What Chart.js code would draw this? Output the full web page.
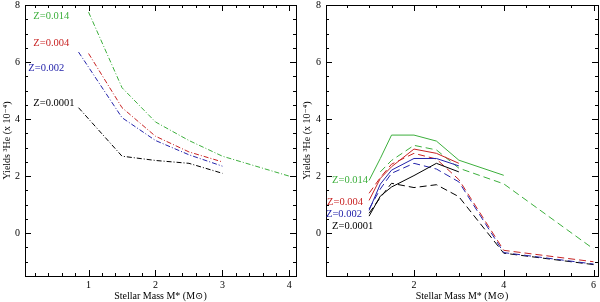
<!DOCTYPE html>
<html><head><meta charset="utf-8">
<script src="https://cdn.jsdelivr.net/npm/chart.js@4/dist/chart.umd.min.js"></script>
<style>
body{margin:0;background:#fff;overflow:hidden}
.w{position:absolute;top:0;width:300px;height:302px}
</style>
</head><body>
<div class="w" style="left:0"><canvas id="c1" width="300" height="302"></canvas></div>
<div class="w" style="left:300px"><canvas id="c2" width="300" height="302"></canvas></div>
<script>
// ---------- DATA ----------
// Left panel (dash-dot curves)
const L_z014_x = [1, 1.5, 2, 2.5, 3, 4];
const L_z014_y = [7.75, 5.1, 3.9, 3.25, 2.7, 2.0];
const L_z004_x = [1, 1.5, 2, 2.5, 3];
const L_z004_y = [6.3, 4.4, 3.4, 2.85, 2.5];
const L_z002_x = [0.85, 1.5, 2, 2.5, 3];
const L_z002_y = [6.35, 4.05, 3.25, 2.75, 2.35];
const L_z0001_x = [0.85, 1.5, 2, 2.5, 3];
const L_z0001_y = [4.4, 2.7, 2.55, 2.45, 2.1];

// Right panel solid curves
const R_z014_sx = [1, 1.25, 1.5, 2, 2.5, 3, 4];
const R_z014_sy = [1.85, 2.62, 3.44, 3.44, 3.23, 2.56, 2.03];
const R_z004_sx = [1, 1.25, 1.5, 2, 2.5, 3];
const R_z004_sy = [1.15, 1.92, 2.33, 2.95, 2.8, 2.45];
const R_z002_sx = [1, 1.25, 1.5, 2, 2.5, 3];
const R_z002_sy = [0.8, 1.72, 2.21, 2.62, 2.62, 2.36];
const R_z0001_sx = [1, 1.25, 1.5, 2, 2.5, 3];
const R_z0001_sy = [0.6, 1.3, 1.62, 2.02, 2.45, 2.15];

// Right panel dashed curves
const R_z014_dx = [1.25, 1.5, 2, 2.5, 3, 4, 6];
const R_z014_dy = [2.15, 2.55, 3.08, 2.92, 2.28, 1.73, -0.55];
const R_z004_dx = [1, 1.25, 1.5, 2, 2.5, 3, 4, 6];
const R_z004_dy = [1.4, 1.95, 2.42, 2.8, 2.6, 1.88, -0.6, -1.0];
const R_z002_dx = [1, 1.25, 1.5, 2, 2.5, 3, 4, 6];
const R_z002_dy = [0.85, 1.55, 2.1, 2.45, 2.25, 1.8, -0.68, -1.08];
const R_z0001_dx = [1, 1.25, 1.5, 2, 2.5, 3, 4, 6];
const R_z0001_dy = [0.7, 1.25, 1.75, 1.6, 1.7, 1.28, -0.7, -1.1];

// Tick labels
const L_xTicks = [1, 2, 3, 4];
const R_xTicks = [2, 4, 6];
const yTicks = [0, 2, 4, 6, 8];
const L_xMinor = [0.2,0.4,0.6,0.8,1.2,1.4,1.6,1.8,2.2,2.4,2.6,2.8,3.2,3.4,3.6,3.8,4];
const R_xMinor = [0.5,1,1.5,2.5,3,3.5,4.5,5,5.5];
const yMinor = [-1.5,-1,-0.5,0.5,1,1.5,2.5,3,3.5,4.5,5,5.5,6.5,7,7.5];

const seriesNames = ['Z=0.014', 'Z=0.004', 'Z=0.002', 'Z=0.0001'];

// ---------- STYLE ----------
const C_GREEN = 'rgb(60,175,60)', C_RED = 'rgb(200,35,35)', C_BLUE = 'rgb(35,35,170)', C_BLACK = '#000';
const colors = [C_GREEN, C_RED, C_BLUE, C_BLACK];
const SERIF = '"Liberation Serif", "DejaVu Serif", serif';

function pts(xs, ys) { return xs.map((x, i) => ({x: x, y: ys[i]})); }
function ds(xs, ys, color, dash) {
  return {data: pts(xs, ys), borderColor: color, borderWidth: 1, borderDash: dash,
          pointRadius: 0, fill: false, tension: 0};
}

const framePlugin = {
  id: 'frame',
  afterDraw(chart, args, o) {
    const ctx = chart.ctx, a = chart.chartArea;
    const xs = chart.scales.x, ys = chart.scales.y;
    ctx.save();
    ctx.strokeStyle = '#000';
    ctx.lineWidth = 1;
    ctx.strokeRect(Math.round(a.left) + 0.5, Math.round(a.top) + 0.5,
                   Math.round(a.right - a.left), Math.round(a.bottom - a.top));
    ctx.beginPath();
    const tick = (vals, len, horiz) => {
      vals.forEach(v => {
        if (horiz) {
          const p = Math.round(xs.getPixelForValue(v)) + 0.5;
          ctx.moveTo(p, a.bottom); ctx.lineTo(p, a.bottom - len);
          ctx.moveTo(p, a.top); ctx.lineTo(p, a.top + len);
        } else {
          const p = Math.round(ys.getPixelForValue(v)) + 0.5;
          ctx.moveTo(a.left, p); ctx.lineTo(a.left + len, p);
          ctx.moveTo(a.right, p); ctx.lineTo(a.right - len, p);
        }
      });
    };
    tick(o.xMajor, 6, true); tick(o.xMinor, 3, true);
    tick(yTicks, 6, false); tick(yMinor, 3, false);
    ctx.stroke();
    ctx.font = '10.5px ' + SERIF;
    ctx.textBaseline = 'middle';
    ctx.textAlign = 'left';
    o.labels.forEach((l, i) => {
      ctx.fillStyle = colors[i];
      ctx.fillText(seriesNames[i], xs.getPixelForValue(l[0]), ys.getPixelForValue(l[1]));
    });
    ctx.restore();
  }
};

function makeChart(id, datasets, xMin, xMax, xMajor, xMinor, yWidth, padRight, labels) {
  return new Chart(document.getElementById(id), {
    type: 'line',
    data: {datasets: datasets},
    plugins: [framePlugin],
    options: {
      responsive: false, animation: false, devicePixelRatio: 1,
      layout: {padding: {top: 5, right: padRight, left: 0, bottom: 0}},
      plugins: {legend: {display: false}, tooltip: {enabled: false},
                frame: {xMajor: xMajor, xMinor: xMinor, labels: labels}},
      scales: {
        x: {type: 'linear', min: xMin, max: xMax,
            afterBuildTicks: s => { s.ticks = xMajor.map(v => ({value: v})); },
            afterFit: s => { s.height = 26; s.paddingLeft = 0; s.paddingRight = 0; },
            grid: {display: false, drawTicks: false}, border: {display: false},
            ticks: {padding: 3, color: '#000', font: {family: SERIF, size: 10}, maxRotation: 0},
            title: {display: true, text: 'Stellar Mass M* (M\u2299)', color: '#000',
                    font: {family: SERIF, size: 10}, padding: {top: 0, bottom: 0}}},
        y: {type: 'linear', min: -1.5, max: 8,
            afterBuildTicks: s => { s.ticks = yTicks.map(v => ({value: v})); },
            afterFit: s => { s.width = yWidth; s.paddingTop = 0; s.paddingBottom = 0; },
            grid: {display: false, drawTicks: false}, border: {display: false},
            ticks: {padding: 5, color: '#000', font: {family: SERIF, size: 10}},
            title: {display: true, text: 'Yields \u00b3He (x 10\u207b\u2074)', color: '#000',
                    font: {family: SERIF, size: 10}, padding: {top: 1, bottom: 0}}}
      }
    }
  });
}

const DD = [5, 2, 1, 2];
makeChart('c1', [
  ds(L_z014_x, L_z014_y, C_GREEN, DD),
  ds(L_z004_x, L_z004_y, C_RED, DD),
  ds(L_z002_x, L_z002_y, C_BLUE, DD),
  ds(L_z0001_x, L_z0001_y, C_BLACK, DD)
], 0.05, 4.1, L_xTicks, L_xMinor, 25, 4,
[[0.175, 7.61], [0.175, 6.67], [0.1, 5.79], [0.175, 4.56]]);

const DS = [7, 4];
makeChart('c2', [
  ds(R_z014_sx, R_z014_sy, C_GREEN, []),
  ds(R_z004_sx, R_z004_sy, C_RED, []),
  ds(R_z002_sx, R_z002_sy, C_BLUE, []),
  ds(R_z0001_sx, R_z0001_sy, C_BLACK, []),
  ds(R_z014_dx, R_z014_dy, C_GREEN, DS),
  ds(R_z004_dx, R_z004_dy, C_RED, DS),
  ds(R_z002_dx, R_z002_dy, C_BLUE, DS),
  ds(R_z0001_dx, R_z0001_dy, C_BLACK, DS)
], 0.04, 6.1, R_xTicks, R_xMinor, 26, 2,
[[0.176, 1.86], [0.065, 1.09], [0.04, 0.68], [0.176, 0.25]]);
</script>
</body></html>
